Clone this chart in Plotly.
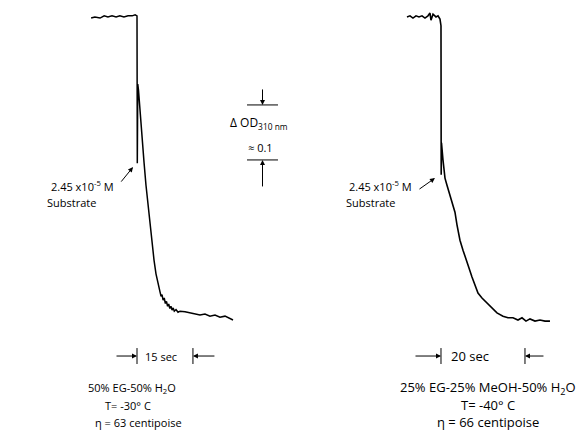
import plotly.graph_objects as go

# ---- data: left trace (50% EG-50% H2O, -30 C), time in s after injection, OD (relative)
left_t = [-12.3, -11.3, -9.9, -8.8, -7.8, -6.7, -5.6, -4.6, -3.5, -2.4, -1.3, -0.5, 0.0,
          0.08, 0.21, 0.40, 0.67, 0.94, 1.34, 1.88, 2.41, 2.95, 3.49, 4.02, 4.56, 5.09,
          5.63, 6.17, 6.45, 6.70, 7.0, 7.3, 7.6, 7.9, 8.2, 8.5, 8.8, 9.1, 9.4, 9.7, 10.0, 10.46, 11.0, 11.53,
          12.87, 14.21, 15.55, 16.89, 18.23, 19.57, 20.91, 22.25, 23.59, 24.66, 25.74]
left_od = [0.549, 0.551, 0.549, 0.553, 0.551, 0.553, 0.551, 0.553, 0.551, 0.553, 0.553, 0.555, 0.553,
           0.285, 0.429, 0.418, 0.391, 0.364, 0.327, 0.287, 0.245, 0.209, 0.173, 0.140, 0.109, 0.084,
           0.064, 0.051, 0.043, 0.046, 0.036, 0.040, 0.030, 0.034, 0.025, 0.029, 0.021, 0.025, 0.018, 0.022,
           0.016, 0.019, 0.014, 0.016,
           0.015, 0.013, 0.011, 0.009, 0.011, 0.007, 0.009, 0.005, 0.007, 0.004, 0.000]

# ---- data: right trace (25% EG-25% MeOH-50% H2O, -40 C)
right_t = [-8.10, -7.38, -6.67, -5.95, -5.24, -4.52, -3.81, -3.10, -2.62, -2.38, -1.90, -1.19, -0.71,
           -0.24, 0.00, 0.05, 0.12, 0.48, 0.95, 1.43, 2.14, 2.62, 3.33, 3.81, 4.52, 5.24, 5.71, 6.43,
           7.38, 8.10, 8.81, 9.76, 10.95, 12.14, 13.33, 14.76, 15.95, 17.14, 18.33, 19.29, 20.24,
           21.19, 22.38, 23.57, 24.76, 25.95]
right_od = [0.551, 0.553, 0.549, 0.553, 0.551, 0.553, 0.549, 0.553, 0.558, 0.545, 0.556, 0.551, 0.553,
            0.547, 0.535, 0.264, 0.322, 0.291, 0.258, 0.245, 0.227, 0.218, 0.196, 0.173, 0.145, 0.127,
            0.115, 0.100, 0.078, 0.062, 0.049, 0.040, 0.031, 0.022, 0.013, 0.007, 0.004, 0.004, 0.000,
            0.004, -0.002, 0.002, -0.002, 0.000, -0.002, -0.002]

left_bar_s = [0, 15]     # "15 sec" time marker
right_bar_s = [0, 20]    # "20 sec" time marker
scale_od = [0.391, 0.291]  # OD scale bar, delta = 0.1
scale_t = [29.5, 37.8]     # x extent of scale bar (left time axis)

left_labels = ["50% EG-50% H<sub>2</sub>O", "T= -30° C", "η = 63 centipoise"]
right_labels = ["25% EG-25% MeOH-50% H<sub>2</sub>O", "T= -40° C", "η = 66 centipoise"]

FONT = "Open Sans"
fig = go.Figure()
fig.add_trace(go.Scatter(x=left_t, y=left_od, mode="lines",
                         line=dict(color="black", width=1.5), xaxis="x", yaxis="y"))
fig.add_trace(go.Scatter(x=right_t, y=right_od, mode="lines",
                         line=dict(color="black", width=1.6), xaxis="x2", yaxis="y"))

# scale bar lines
for od in scale_od:
    fig.add_trace(go.Scatter(x=scale_t, y=[od, od], mode="lines",
                             line=dict(color="black", width=1), xaxis="x", yaxis="y"))

# time markers (vertical bars)
bar_y = [-0.051, -0.080]
for t in left_bar_s:
    fig.add_trace(go.Scatter(x=[t, t], y=bar_y, mode="lines",
                             line=dict(color="black", width=1), xaxis="x", yaxis="y"))
for t in right_bar_s:
    fig.add_trace(go.Scatter(x=[t, t], y=bar_y, mode="lines",
                             line=dict(color="black", width=1), xaxis="x2", yaxis="y"))

ann = []
mid_y = -0.0655
def arrow(x, y, ax, ay, xref):
    ann.append(dict(x=x, y=y, xref=xref, yref="y", ax=ax, ay=ay, text="",
                    showarrow=True, arrowhead=2, arrowsize=1, arrowwidth=1, arrowcolor="black"))

arrow(left_bar_s[0], mid_y, -22, 0, "x")
arrow(left_bar_s[1], mid_y, 23, 0, "x")
arrow(right_bar_s[0], mid_y, -27, 0, "x2")
arrow(right_bar_s[1], mid_y, 20, 0, "x2")
# scale bar arrows
sx = (scale_t[0] + scale_t[1]) / 2
arrow(sx, scale_od[0], 0, -17, "x")
arrow(sx, scale_od[1], 0, 28, "x")
# substrate arrows
arrow(-1.07, 0.278, -13, 16, "x")
arrow(-1.43, 0.258, -17, 12, "x2")

def txt(x, y, s, xref, size=11, anchor="center"):
    ann.append(dict(x=x, y=y, xref=xref, yref="y", text=s, showarrow=False,
                    xanchor=anchor, yanchor="middle",
                    font=dict(family=FONT, size=size, color="black")))

txt(6.4, mid_y, "15 sec", "x", size=11)
txt(6.9, mid_y, "20 sec", "x2", size=13)
left_cx = [-1.3, -2.4, 0.3]
for i, s in enumerate(left_labels):
    txt(left_cx[i], -0.1236 - i * 0.031, s, "x", size=11)
for i, s in enumerate(right_labels):
    txt(11.2, -0.1236 - i * 0.031, s, "x2", size=13)

txt(-5.63, 0.2436, "2.45 x10<sup>-5</sup> M", "x", size=11, anchor="right")
txt(-10.5, 0.213, "Substrate", "x", size=11, anchor="right")
txt(-6.43, 0.2436, "2.45 x10<sup>-5</sup> M", "x2", size=11, anchor="right")
txt(-10.5, 0.213, "Substrate", "x2", size=11, anchor="right")
txt(24.4, 0.358, "Δ OD<sub>310 nm</sub>", "x", size=12, anchor="left")
txt(33.0, 0.3145, "≈ 0.1", "x", size=11)

fig.update_layout(
    width=585, height=436, margin=dict(l=0, r=0, t=0, b=0),
    paper_bgcolor="white", plot_bgcolor="white", showlegend=False,
    xaxis=dict(domain=[0, 1], range=[-36.73, 120.11], visible=False),
    xaxis2=dict(domain=[0, 1], range=[-105.0, 34.29], overlaying="x", visible=False),
    yaxis=dict(domain=[0, 1], range=[-0.2109, 0.5818], visible=False),
    annotations=ann,
)
fig.write_html("out.html", config={"displayModeBar": False},
               post_script="document.body.style.margin='0';document.body.style.overflow='hidden';")
